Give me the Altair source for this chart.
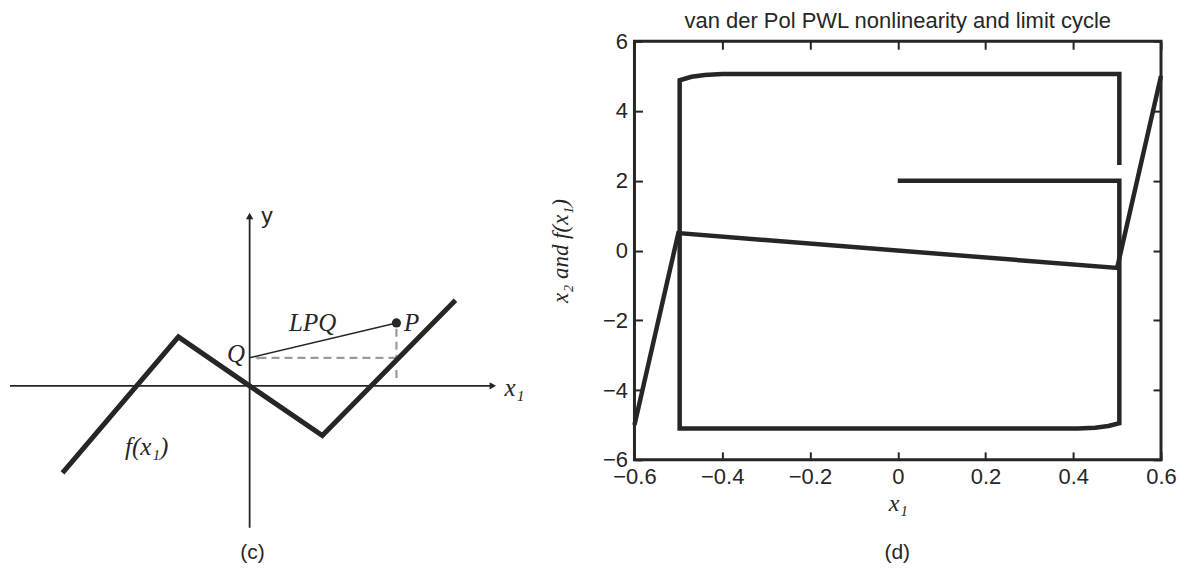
import altair as alt
import pandas as pd

INK = "#262626"
GRAY = "#9a9a9a"
SERIF = "Liberation Serif, DejaVu Serif"
SANS = "Liberation Sans, Arial, Helvetica"

# ---------------- Panel (c): schematic (diagram units) ----------------
c_f_x = [-2.6, -0.99, 0.0, 1.01, 2.86]
c_f_y = [-1.21, 0.68, 0.0, -0.69, 1.19]
c_hax_x = [-3.33, 3.38]      # horizontal (x1) axis extent
c_vax_y = [-1.97, 2.36]      # vertical (y) axis extent
c_p = [2.04, 0.875]          # point P
c_q = [0.0, 0.39]            # point Q
c_lbl_text = ["LPQ", "P", "Q", "f(x\u2081)", "x\u2081"]
c_lbl_x = [0.875, 2.25, -0.19, -1.43, 3.68]
c_lbl_y = [0.875, 0.875, 0.44, -0.85, -0.03]

# ---------------- Panel (d): PWL nonlinearity and limit cycle ----------------
pwl_x = [-0.6, -0.5, 0.5, 0.6]
pwl_y = [-5.0, 0.5, -0.5, 5.0]
cyc_x = [0.0, 0.505, 0.505, 0.48, 0.45, 0.41, -0.497, -0.497, -0.47, -0.44, -0.40, 0.505, 0.505]
cyc_y = [2.0, 2.0, -4.95, -5.03, -5.08, -5.1, -5.1, 4.88, 4.98, 5.03, 5.06, 5.06, 2.45]
x_ticks = [-0.6, -0.4, -0.2, 0, 0.2, 0.4, 0.6]
y_ticks = [-6, -4, -2, 0, 2, 4, 6]

# ====================== chart (c) ======================
XC = alt.Scale(domain=[-3.33, 3.89], nice=False, zero=False)
YC = alt.Scale(domain=[-2.5, 4.79], nice=False, zero=False)
cx = lambda f="x": alt.X(f"{f}:Q", scale=XC, axis=None)
cy = lambda f="y": alt.Y(f"{f}:Q", scale=YC, axis=None)

axes_df = pd.DataFrame({"x": [c_hax_x[0], 0.0], "x2": [c_hax_x[1], 0.0],
                        "y": [0.0, c_vax_y[0]], "y2": [0.0, c_vax_y[1]]})
c_axes = alt.Chart(axes_df).mark_rule(color=INK, strokeWidth=1.8).encode(
    x=cx(), x2="x2:Q", y=cy(), y2="y2:Q")

c_arrow_r = alt.Chart(pd.DataFrame({"x": [c_hax_x[1]], "y": [0.0]})).mark_point(
    shape="triangle-right", filled=True, size=55, color=INK, opacity=1).encode(x=cx(), y=cy())
c_arrow_u = alt.Chart(pd.DataFrame({"x": [0.0], "y": [c_vax_y[1]]})).mark_point(
    shape="triangle-up", filled=True, size=55, color=INK, opacity=1).encode(x=cx(), y=cy())

f_df = pd.DataFrame({"x": c_f_x, "y": c_f_y, "i": range(len(c_f_x))})
c_f = alt.Chart(f_df).mark_line(color=INK, strokeWidth=5, strokeJoin="miter").encode(
    x=cx(), y=cy(), order="i:Q")

lpq_df = pd.DataFrame({"x": [c_q[0]], "y": [c_q[1]], "x2": [c_p[0]], "y2": [c_p[1]]})
c_lpq = alt.Chart(lpq_df).mark_rule(color=INK, strokeWidth=1.6).encode(
    x=cx(), y=cy(), x2="x2:Q", y2="y2:Q")

dash_df = pd.DataFrame({"x": [c_p[0], c_p[0], c_p[0]], "y": [c_q[1], c_p[1] - 0.08, 0.22],
                        "x2": [c_q[0] + 0.12, c_p[0], c_p[0]], "y2": [c_q[1], c_q[1], 0.07]})
c_dash = alt.Chart(dash_df).mark_rule(color=GRAY, strokeWidth=2.2, strokeDash=[8, 5]).encode(
    x=cx(), y=cy(), x2="x2:Q", y2="y2:Q")
c_dash_head = alt.Chart(pd.DataFrame({"x": [c_q[0] + 0.1], "y": [c_q[1]]})).mark_point(
    shape="triangle-left", filled=True, size=18, color=GRAY, opacity=1).encode(x=cx(), y=cy())

c_pdot = alt.Chart(pd.DataFrame({"x": [c_p[0]], "y": [c_p[1]]})).mark_point(
    shape="circle", filled=True, size=85, color=INK, opacity=1).encode(x=cx(), y=cy())

lbl_df = pd.DataFrame({"t": c_lbl_text, "x": c_lbl_x, "y": c_lbl_y})
c_lbl = alt.Chart(lbl_df).mark_text(font=SERIF, fontStyle="italic", fontSize=25, color=INK,
                                    align="center", baseline="middle").encode(
    x=cx(), y=cy(), text="t:N")
c_ylbl = alt.Chart(pd.DataFrame({"t": ["y"], "x": [0.24], "y": [2.36]})).mark_text(
    font=SANS, fontSize=23, color=INK, align="center", baseline="middle").encode(
    x=cx(), y=cy(), text="t:N")
c_cap = alt.Chart(pd.DataFrame({"t": ["(c)"], "x": [0.04], "y": [-2.32]})).mark_text(
    font=SANS, fontSize=21, color=INK, align="center", baseline="middle").encode(
    x=cx(), y=cy(), text="t:N")

chart_c = alt.layer(c_axes, c_arrow_r, c_arrow_u, c_dash, c_dash_head, c_f, c_lpq, c_pdot,
                    c_lbl, c_ylbl, c_cap).properties(
    width=520, height=525, view=alt.ViewBackground(stroke="transparent"))

# ====================== chart (d) ======================
XD = alt.Scale(domain=[-0.6, 0.6], nice=False, zero=False)
YD = alt.Scale(domain=[-6, 6], nice=False, zero=False)
common = dict(domain=False, grid=False, tickSize=8, tickWidth=2, tickColor=INK,
              offset=-8, labelFont=SANS, labelFontSize=22, labelColor=INK,
              labelFlush=False)

x_bottom = alt.Axis(orient="bottom", values=x_ticks, format="~g", labelPadding=7,
                    title="x\u2081", titleFont=SERIF, titleFontStyle="italic",
                    titleFontWeight="normal", titleFontSize=24, titleColor=INK,
                    titlePadding=4, **common)
y_left = alt.Axis(orient="left", values=y_ticks, format="d", labelPadding=7,
                  title="x\u2082 and f(x\u2081)", titleFont=SERIF, titleFontStyle="italic",
                  titleFontWeight="normal", titleFontSize=23, titleColor=INK,
                  titlePadding=30, **common)
x_top = alt.Axis(orient="top", values=x_ticks, labels=False, title="", **common)
y_right = alt.Axis(orient="right", values=y_ticks, labels=False, title="", **common)

pwl_df = pd.DataFrame({"x": pwl_x, "y": pwl_y, "i": range(len(pwl_x))})
cyc_df = pd.DataFrame({"x": cyc_x, "y": cyc_y, "i": range(len(cyc_x))})

d_pwl = alt.Chart(pwl_df).mark_line(color=INK, strokeWidth=4.5, strokeJoin="miter").encode(
    x=alt.X("x:Q", scale=XD, axis=x_bottom),
    y=alt.Y("y:Q", scale=YD, axis=y_left),
    order="i:Q")
d_cyc = alt.Chart(cyc_df).mark_line(color=INK, strokeWidth=4.5, strokeJoin="miter").encode(
    x=alt.X("x:Q", scale=XD, axis=x_top),
    y=alt.Y("y:Q", scale=YD, axis=y_right),
    order="i:Q")
d_cap = alt.Chart(pd.DataFrame({"t": ["(d)"]})).mark_text(
    font=SANS, fontSize=21, color=INK, align="center", baseline="middle").encode(
    text="t:N", x=alt.value(263), y=alt.value(512))

chart_d = alt.layer(d_pwl, d_cyc, d_cap).resolve_axis(x="independent", y="independent").properties(
    width=527, height=419,
    view=alt.ViewBackground(stroke=INK, strokeWidth=3),
    title=alt.TitleParams("van der Pol PWL nonlinearity and limit cycle", font=SANS,
                          fontSize=22, fontWeight="normal", color=INK, anchor="middle",
                          frame="group", offset=-3))

chart = alt.hconcat(chart_c, chart_d, spacing=17).properties(padding=0).configure(
    background="white")

chart.save("out.html", embed_options={"renderer": "svg", "actions": False})
